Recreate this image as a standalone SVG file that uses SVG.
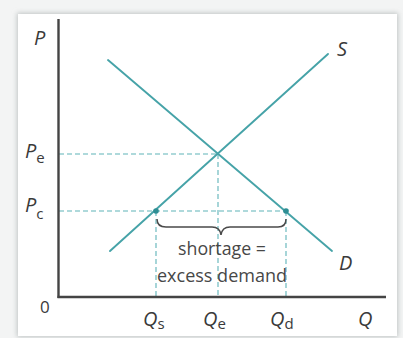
<svg xmlns="http://www.w3.org/2000/svg" width="403" height="338" viewBox="0 0 403 338">
<defs>
<filter id="sh" x="-5%" y="-5%" width="110%" height="110%"><feGaussianBlur stdDeviation="2.5"/></filter>
<style>
.curve{stroke:#46a3a8;stroke-width:1.9;fill:none;stroke-linecap:round}
.dash{stroke:#5fb3b8;stroke-width:1.1;stroke-dasharray:5,3;fill:none}
.axis{stroke:#444;stroke-width:2.4;fill:none}
.lbl{font-family:'Open Sans','Noto Sans',sans-serif;font-size:20px;fill:#3a3a3a;font-style:italic;font-weight:500}
.num{font-family:'Open Sans','Noto Sans',sans-serif;font-size:17px;fill:#3a3a3a;font-weight:500}
.sub{font-family:'Open Sans','Noto Sans',sans-serif;font-size:15px;fill:#3a3a3a;font-style:normal;font-weight:500}
.txt{font-family:'Open Sans','Noto Sans',sans-serif;font-size:17.5px;fill:#474747;font-weight:500}
</style>
</defs>
<rect x="0" y="0" width="403" height="338" fill="#f3f4f4"/>
<rect x="17" y="13" width="381" height="324" fill="#bfc4c4" filter="url(#sh)"/>
<rect x="18" y="14" width="379" height="322" fill="#ffffff"/>
<g id="connectors">
<line class="dash" x1="59" y1="154" x2="218" y2="154"/>
<line class="dash" x1="59" y1="211" x2="286" y2="211"/>
<line class="dash" x1="156" y1="211" x2="156" y2="296"/>
<line class="dash" x1="218" y1="154" x2="218" y2="296"/>
<line class="dash" x1="286" y1="211" x2="286" y2="296"/>
</g>
<g id="axes">
<line class="axis" x1="58.5" y1="19" x2="58.5" y2="298"/>
<line class="axis" x1="57.5" y1="297" x2="386" y2="297"/>
</g>
<g id="demand"><line class="curve" x1="108" y1="60" x2="332" y2="251"/></g>
<g id="supply"><line class="curve" x1="110" y1="251" x2="328" y2="54"/></g>
<g id="points">
<circle cx="156" cy="211" r="2.8" fill="#2e8e94"/>
<circle cx="286" cy="211" r="2.8" fill="#2e8e94"/>
</g>
<g id="brace">
<path d="M157,219 Q157,227 166,227 L212,227 Q220,227 221,235 Q222,227 230,227 L278,227 Q286,227 286,219" fill="none" stroke="#4a4a4a" stroke-width="1.5"/>
<text class="txt" x="222" y="255" text-anchor="middle" textLength="88" lengthAdjust="spacingAndGlyphs">shortage =</text>
<text class="txt" x="157" y="282" textLength="130" lengthAdjust="spacingAndGlyphs">excess demand</text>
</g>
<g id="labels">
<text class="lbl" x="34" y="45">P</text>
<text class="lbl" x="25" y="158">P<tspan class="sub" dy="5">e</tspan></text>
<text class="lbl" x="25" y="212">P<tspan class="sub" dy="7">c</tspan></text>
<text class="lbl" x="337" y="56">S</text>
<text class="lbl" x="339" y="270">D</text>
<text class="num" x="40" y="313">0</text>
<text class="lbl" x="143" y="326">Q<tspan class="sub" dy="3">s</tspan></text>
<text class="lbl" x="203" y="326">Q<tspan class="sub" dy="3">e</tspan></text>
<text class="lbl" x="270" y="326">Q<tspan class="sub" dy="3">d</tspan></text>
<text class="lbl" x="358" y="326">Q</text>
</g>
</svg>
